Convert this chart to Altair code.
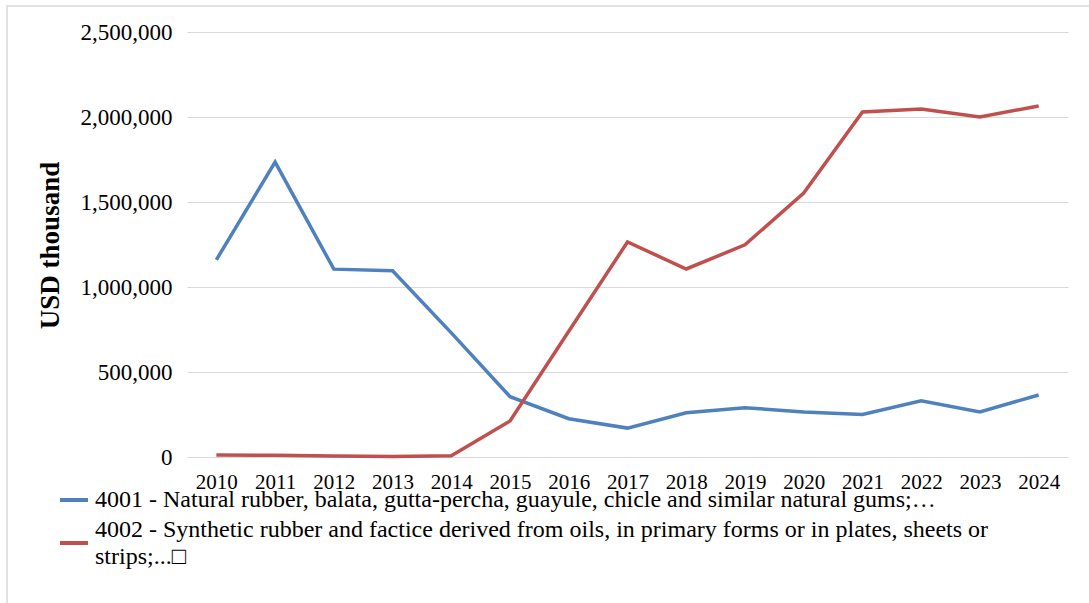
import altair as alt
import pandas as pd

years = [str(y) for y in range(2010, 2025)]
series_names = [
    "4001 - Natural rubber, balata, gutta-percha, guayule, chicle and similar natural gums;\u2026",
    "4002 - Synthetic rubber and factice derived from oils, in primary forms or in plates, sheets or strips;...\u25a1",
]
natural = [1160000, 1735000, 1105000, 1095000, 730000, 355000, 225000, 170000, 260000, 290000, 265000, 250000, 330000, 265000, 365000]
synthetic = [12000, 10000, 6000, 3000, 8000, 212000, 740000, 1265000, 1106000, 1248000, 1553000, 2030000, 2047000, 2000000, 2065000]
colors = ["#4F81BD", "#C0504D"]
y_ticks = [0, 500000, 1000000, 1500000, 2000000, 2500000]

rows = []
for i, y in enumerate(years):
    rows.append({"year": y, "series": series_names[0], "value": natural[i]})
    rows.append({"year": y, "series": series_names[1], "value": synthetic[i]})
df = pd.DataFrame(rows)

FONT = "Liberation Serif"
LEG_SIZE = 24

lines = alt.Chart(df).mark_line(strokeWidth=3.5).encode(
    x=alt.X(
        "year:O",
        sort=years,
        title=None,
        axis=alt.Axis(
            labelAngle=0,
            labelFont=FONT,
            labelFontSize=21,
            labelColor="#000000",
            labelPadding=14,
            ticks=False,
            domain=False,
            grid=False,
        ),
    ),
    y=alt.Y(
        "value:Q",
        scale=alt.Scale(domain=[0, 2500000]),
        axis=alt.Axis(
            values=y_ticks,
            format=",.0f",
            title="USD thousand",
            titleFont=FONT,
            titleFontSize=27,
            titleFontWeight="bold",
            titleColor="#000000",
            titleAngle=270,
            titleX=-129,
            titleY=213,
            titleAlign="center",
            titleBaseline="alphabetic",
            labelFont=FONT,
            labelFontSize=23,
            labelColor="#000000",
            labelPadding=15,
            ticks=False,
            domain=False,
            grid=True,
            gridColor="#d9d9d9",
            gridWidth=1.2,
        ),
    ),
    color=alt.Color(
        "series:N",
        scale=alt.Scale(domain=series_names, range=colors),
        legend=None,
    ),
)

# manual legend (symbol + wrapped labels)
split_at = series_names[1].index("sheets or ") + len("sheets or")
leg_lines = [series_names[0], series_names[1][:split_at], series_names[1][split_at + 1:]]
leg_df = pd.DataFrame({"series": series_names})

sym_blue = alt.Chart(leg_df).transform_filter(
    alt.datum.series == series_names[0]
).mark_rule(strokeWidth=4, color=colors[0]).encode(
    x=alt.value(-127), x2=alt.value(-99), y=alt.value(468)
)
sym_red = alt.Chart(leg_df).transform_filter(
    alt.datum.series == series_names[1]
).mark_rule(strokeWidth=4, color=colors[1]).encode(
    x=alt.value(-127), x2=alt.value(-99), y=alt.value(511)
)

def leg_text(txt, ypos):
    return alt.Chart(pd.DataFrame({"t": [txt]})).mark_text(
        align="left", baseline="middle", font=FONT, fontSize=LEG_SIZE, color="#000000"
    ).encode(text="t:N", x=alt.value(-92), y=alt.value(ypos))

t1 = leg_text(leg_lines[0], 468)
t2 = leg_text(leg_lines[1], 498)
t3 = leg_text(leg_lines[2], 525)

frame = alt.Chart(pd.DataFrame({"a": [0]})).mark_rect(
    fill=None, stroke="#d9d9d9", strokeWidth=1.5
).encode(
    x=alt.value(-180), x2=alt.value(920), y=alt.value(-26), y2=alt.value(590)
)

chart = alt.layer(frame, lines, sym_blue, sym_red, t1, t2, t3).properties(
    width=881,
    height=425,
    padding={"left": 187, "top": 32, "right": 21, "bottom": 146},
    autosize=alt.AutoSizeParams(type="none"),
    background="#ffffff",
).configure_view(stroke=None)

chart.save("out.html", embed_options={"renderer": "svg", "actions": False})
